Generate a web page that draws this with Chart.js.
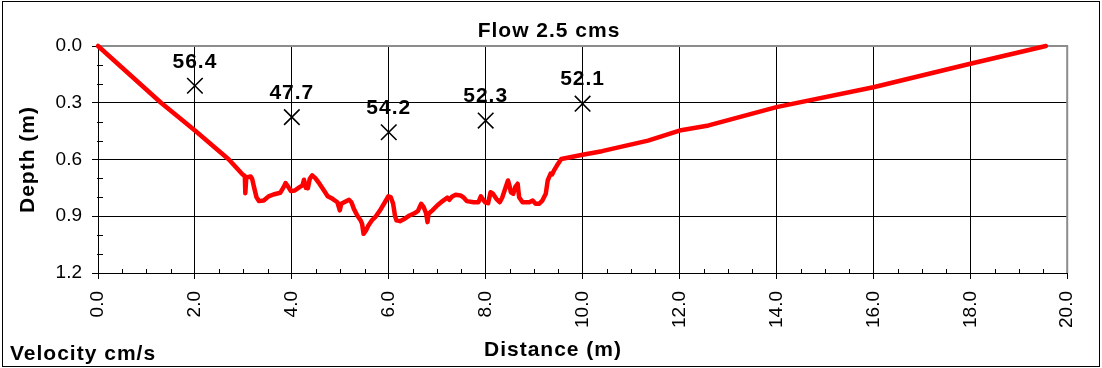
<!DOCTYPE html>
<html><head><meta charset="utf-8">
<script src="https://cdn.jsdelivr.net/npm/chart.js@4.4.0/dist/chart.umd.min.js"></script>
<style>html,body{margin:0;padding:0;background:#fff;}canvas{display:block;}</style>
</head><body>
<canvas id="c" width="1102" height="368"></canvas>
<script>
const chartTitle = 'Flow 2.5 cms';
const xAxisTitle = 'Distance (m)';
const yAxisTitle = 'Depth (m)';
const cornerNote = 'Velocity cm/s';

const xTickValues = [0, 2, 4, 6, 8, 10, 12, 14, 16, 18, 20];
const xTickLabels = ['0.0','2.0','4.0','6.0','8.0','10.0','12.0','14.0','16.0','18.0','20.0'];
const yTickValues = [0, 0.3, 0.6, 0.9, 1.2];
const yTickLabels = ['0.0','0.3','0.6','0.9','1.2'];

const profileDistance = [0,1.3,2.0,2.7,2.98,3.03,3.04,3.06,3.15,3.18,3.22,3.27,3.32,3.42,3.52,3.62,3.76,3.83,3.87,3.93,3.98,4.06,4.16,4.22,4.25,4.29,4.33,4.37,4.42,4.48,4.57,4.67,4.74,4.84,4.94,4.99,5.02,5.08,5.18,5.23,5.28,5.35,5.42,5.45,5.48,5.53,5.58,5.65,5.72,5.82,5.92,5.99,6.04,6.09,6.13,6.16,6.23,6.33,6.43,6.53,6.60,6.67,6.72,6.77,6.80,6.82,6.90,7.00,7.11,7.21,7.25,7.31,7.38,7.48,7.55,7.61,7.75,7.85,7.90,7.95,7.99,8.05,8.10,8.15,8.22,8.29,8.34,8.39,8.46,8.49,8.52,8.57,8.61,8.66,8.69,8.76,8.90,8.97,9.03,9.10,9.17,9.24,9.28,9.34,9.37,9.41,9.47,9.56,10.0,10.4,11.35,12.0,12.6,14.0,16.0,18.0,19.56];
const profileDepth = [0,0.30,0.447,0.60,0.678,0.688,0.778,0.695,0.690,0.702,0.746,0.799,0.820,0.817,0.795,0.785,0.776,0.746,0.725,0.746,0.767,0.764,0.746,0.737,0.707,0.750,0.752,0.702,0.684,0.697,0.728,0.767,0.794,0.808,0.826,0.869,0.834,0.826,0.813,0.826,0.861,0.896,0.922,0.940,0.993,0.975,0.949,0.922,0.905,0.869,0.826,0.795,0.799,0.834,0.900,0.922,0.926,0.913,0.896,0.884,0.873,0.834,0.852,0.884,0.931,0.887,0.869,0.843,0.820,0.802,0.813,0.795,0.786,0.790,0.802,0.820,0.826,0.826,0.795,0.813,0.826,0.831,0.773,0.781,0.808,0.826,0.802,0.764,0.711,0.737,0.773,0.781,0.746,0.728,0.799,0.826,0.826,0.817,0.834,0.834,0.817,0.781,0.711,0.675,0.679,0.658,0.632,0.597,0.575,0.556,0.500,0.447,0.420,0.323,0.218,0.094,0.0];

const velocityDistance = [2, 4, 6, 8, 10];
const velocityDepth = [0.21, 0.376, 0.456, 0.394, 0.305];
const velocityLabels = ['56.4', '47.7', '54.2', '52.3', '52.1'];

const FONT = '"Liberation Sans", Arial, sans-serif';

const decor = {
  id: 'decor',
  beforeDatasetsDraw(chart) {
    const {ctx, chartArea: a, scales: {x, y}} = chart;
    ctx.save();
    ctx.strokeStyle = '#000'; ctx.lineWidth = 1;
    ctx.beginPath();
    for (let v = 0.5; v < 20; v += 0.5) {
      if (Math.abs(v % 2) < 1e-6) continue;
      const px = Math.round(x.getPixelForValue(v)) + 0.5;
      ctx.moveTo(px, a.bottom - 4); ctx.lineTo(px, a.bottom + 1);
    }
    for (let v = 0.1; v < 1.2; v += 0.1) {
      if (Math.abs((v / 0.3) - Math.round(v / 0.3)) < 1e-6) continue;
      const py = Math.round(y.getPixelForValue(v)) + 0.5;
      ctx.moveTo(a.left - 1, py); ctx.lineTo(a.left + 5, py);
    }
    ctx.stroke();
    ctx.strokeStyle = '#8c8c8c'; ctx.lineWidth = 2;
    ctx.beginPath();
    ctx.moveTo(a.left, a.top); ctx.lineTo(a.right, a.top); ctx.lineTo(a.right, a.bottom);
    ctx.stroke();
    ctx.restore();
  },
  afterDraw(chart) {
    const {ctx, chartArea: a} = chart;
    ctx.save();
    ctx.fillStyle = '#000';
    ctx.font = 'bold 21px ' + FONT;
    try { ctx.letterSpacing = '1px'; } catch (e) {}
    ctx.textAlign = 'center'; ctx.textBaseline = 'middle';
    const meta = chart.getDatasetMeta(0);
    meta.data.forEach((el, i) => {
      ctx.fillText(velocityLabels[i], el.x, el.y - 24);
    });
    ctx.fillText(chartTitle, 549, 31);
    ctx.fillText(xAxisTitle, 553, 350);
    ctx.textAlign = 'left';
    ctx.fillText(cornerNote, 10, 354);
    ctx.save();
    ctx.translate(28, (a.top + a.bottom) / 2);
    ctx.rotate(-Math.PI / 2);
    ctx.textAlign = 'center';
    ctx.fillText(yAxisTitle, 0, 0);
    ctx.restore();
    ctx.strokeStyle = '#000'; ctx.lineWidth = 1;
    ctx.strokeRect(2.5, 1.5, 1097, 365);
    ctx.restore();
  }
};

new Chart(document.getElementById('c').getContext('2d'), {
  type: 'scatter',
  data: {
    datasets: [
      {
        label: 'Velocity',
        data: velocityDistance.map((v, i) => ({x: v, y: velocityDepth[i]})),
        pointStyle: 'crossRot', pointRadius: 11, pointBorderWidth: 1.6,
        borderColor: '#000', backgroundColor: '#000', showLine: false, order: 0
      },
      {
        label: 'Profile',
        data: profileDistance.map((v, i) => ({x: v, y: profileDepth[i]})),
        showLine: true, borderColor: '#ff0000', backgroundColor: '#ff0000',
        borderWidth: 4.5, pointRadius: 0, tension: 0,
        borderJoinStyle: 'round', borderCapStyle: 'round', order: 1, clip: 4
      }
    ]
  },
  options: {
    responsive: false, animation: false, devicePixelRatio: 1,
    layout: {padding: {top: 46, right: 18, left: 0, bottom: 0}},
    plugins: {legend: {display: false}, tooltip: {enabled: false}, title: {display: false}},
    scales: {
      x: {
        type: 'linear', min: 0, max: 20,
        afterBuildTicks: s => { s.ticks = xTickValues.map(v => ({value: v})); },
        afterFit: s => { s.height = 95; },
        ticks: {
          callback: (v, i) => xTickLabels[i],
          minRotation: 90, maxRotation: 90, autoSkip: false,
          color: '#000', font: {family: FONT, size: 19}, padding: 12
        },
        grid: {color: '#000', lineWidth: 1, tickLength: 6, tickColor: '#000', drawTicks: true},
        border: {display: true, color: '#000', width: 1}
      },
      y: {
        type: 'linear', min: 0, max: 1.2, reverse: true,
        afterBuildTicks: s => { s.ticks = yTickValues.map(v => ({value: v})); },
        afterFit: s => { s.width = 98; },
        ticks: {
          callback: (v, i) => yTickLabels[i],
          autoSkip: false, color: '#000', font: {family: FONT, size: 19}, padding: 10
        },
        grid: {color: '#000', lineWidth: 1, tickLength: 6, tickColor: '#000', drawTicks: true},
        border: {display: true, color: '#000', width: 1}
      }
    }
  },
  plugins: [decor]
});
</script>
</body></html>
